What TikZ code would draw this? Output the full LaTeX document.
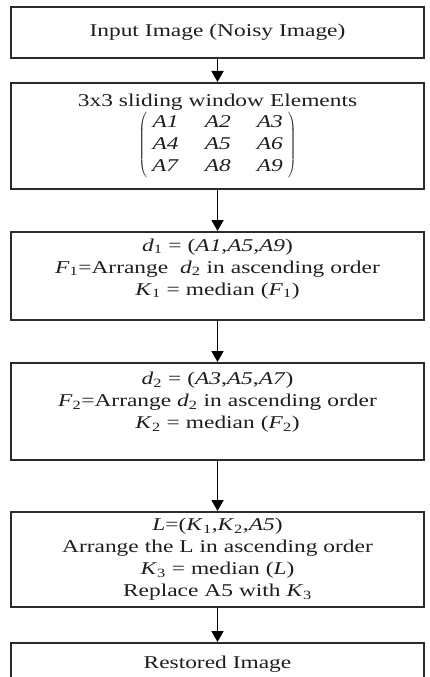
\documentclass[tikz,border=0pt]{standalone}
\usepackage{fontspec}
\setmainfont{Liberation Serif}[FakeStretch=1.3]
\usepackage{tikz}
\usetikzlibrary{arrows.meta,positioning}
\definecolor{frame}{HTML}{2B2B2B}
\definecolor{ink}{HTML}{1E1E1E}
\newcommand{\vsub}[2]{\textit{#1}\textsubscript{#2}}
\tikzset{
  box/.style={
    draw=frame,fill=white,line width=2pt,
    minimum width=413pt,text width=400pt,align=center,
    inner sep=0pt,font=\fontsize{18}{22}\selectfont,text=ink
  },
  arrow/.style={-{Triangle[length=11pt,width=12pt]},draw=black,line width=1.8pt}
}

\begin{document}
\begin{tikzpicture}
\useasboundingbox (0,0) rectangle (430pt,-677pt);

\node[box,minimum height=51pt,anchor=north] at (217.5pt,-6pt) (input)
{Input Image (Noisy Image)};

\node[box,minimum height=106pt,below=23pt of input] (window)
{3x3 sliding window Elements\\
$\left(\begin{tabular}{@{\hspace{5pt}}c@{\hspace{26pt}}c@{\hspace{26pt}}c@{\hspace{5pt}}}
\textit{A1} & \textit{A2} & \textit{A3}\\
\textit{A4} & \textit{A5} & \textit{A6}\\
\textit{A7} & \textit{A8} & \textit{A9}
\end{tabular}\right)$};

\node[box,minimum height=88pt,below=41pt of window] (diag)
{\vsub{d}{1} = (\textit{A1},\textit{A5},\textit{A9})\\
\vsub{F}{1}=Arrange~ \vsub{d}{2} in ascending order\\
\vsub{K}{1} = median (\vsub{F}{1})\\[-4pt] \mbox{}};

\node[box,minimum height=97pt,below=41pt of diag] (antidiag)
{\vsub{d}{2} = (\textit{A3},\textit{A5},\textit{A7})\\
\vsub{F}{2}=Arrange \vsub{d}{2} in ascending order\\
\vsub{K}{2} = median (\vsub{F}{2})\\ \mbox{}};

\node[box,minimum height=95pt,below=50pt of antidiag] (merge)
{\textit{L}=(\vsub{K}{1},\vsub{K}{2},\textit{A5})\\
Arrange the L in ascending order\\
\vsub{K}{3} = median (\textit{L})\\
Replace A5 with \vsub{K}{3}};

\node[box,minimum height=40pt,text depth=1pt,below=34pt of merge] (output)
{Restored Image};

\draw[arrow] (input)--(window);
\draw[arrow] (window)--(diag);
\draw[arrow] (diag)--(antidiag);
\draw[arrow] (antidiag)--(merge);
\draw[arrow] (merge)--(output);
\end{tikzpicture}
\end{document}
